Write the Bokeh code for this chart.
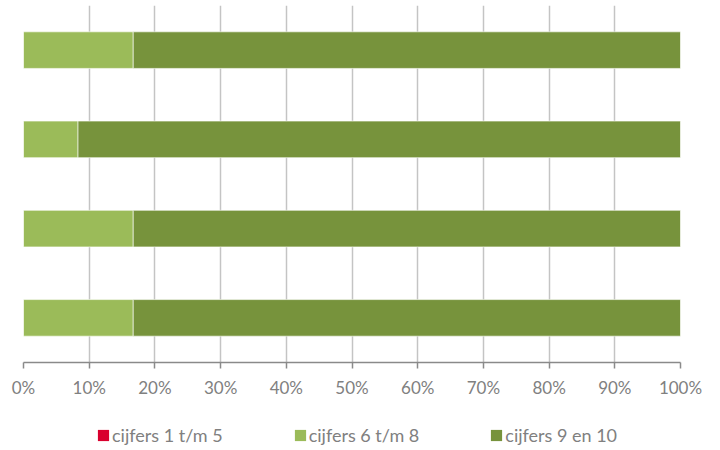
from bokeh.plotting import figure
from bokeh.layouts import column
from bokeh.models import ColumnDataSource, Range1d, NumeralTickFormatter, Legend, LegendItem, FixedTicker
from bokeh.embed import file_html
from bokeh.resources import INLINE

categories = ["1", "2", "3", "4"]
series_names = ["cijfers 1 t/m 5", "cijfers 6 t/m 8", "cijfers 9 en 10"]
low = [0.0, 0.0, 0.0, 0.0]
mid = [16.7, 8.3, 16.7, 16.7]
high = [83.3, 91.7, 83.3, 83.3]
colors = ["#d9002e", "#9bbb59", "#77933c"]
ticks = [0, 10, 20, 30, 40, 50, 60, 70, 80, 90, 100]

data = {
    "y": list(range(len(categories))),
    "s0": [v / 100 for v in low],
    "s1": [v / 100 for v in mid],
    "s2": [v / 100 for v in high],
}
source = ColumnDataSource(data)

p = figure(width=720, height=400, output_backend="svg", toolbar_location=None,
           x_range=Range1d(0, 1), y_range=Range1d(3.5, -0.5),
           min_border_left=23, min_border_right=40, min_border_top=5, min_border_bottom=35)

p.hbar_stack(["s0", "s1", "s2"], y="y", height=0.41, color=colors,
             line_color="white", line_width=0.6, source=source)

p.outline_line_color = None
p.yaxis.visible = False
p.ygrid.visible = False
p.xgrid.grid_line_color = "#c4c4c4"
p.xgrid.grid_line_width = 1.5
p.xaxis.ticker = FixedTicker(ticks=[t / 100 for t in ticks])
p.xaxis.formatter = NumeralTickFormatter(format="0%")
p.xaxis.axis_line_color = "#8a8a8a"
p.xaxis.axis_line_width = 1.5
p.xaxis.major_tick_line_color = "#8a8a8a"
p.xaxis.major_tick_line_width = 1.5
p.xaxis.major_tick_out = 6
p.xaxis.major_tick_in = 0
p.xaxis.minor_tick_line_color = None
p.xaxis.major_label_standoff = 8
p.xaxis.major_label_text_font = "Lato"
p.xaxis.major_label_text_font_size = "17px"
p.xaxis.major_label_text_color = "#808080"

# legend strip below the chart (same stacked series, out of this strip's view)
lf = figure(width=720, height=48, output_backend="svg", toolbar_location=None,
            x_axis_type=None, y_axis_type=None, x_range=Range1d(0, 1), y_range=Range1d(10, 11),
            min_border_left=0, min_border_right=0, min_border_top=0, min_border_bottom=0)
lf.outline_line_color = None
swatches = lf.hbar_stack(["s0", "s1", "s2"], y="y", height=0.41, color=colors,
                         line_color=None, source=source)
items = [LegendItem(label=n, renderers=[r]) for n, r in zip(series_names, swatches)]
legend = Legend(items=items, orientation="horizontal", location=(73, 2),
                glyph_width=14, glyph_height=14, label_standoff=2, spacing=70,
                padding=0, margin=0, border_line_color=None, background_fill_alpha=0,
                label_text_font="Lato", label_text_font_size="18px", label_text_color="#808080")
lf.add_layout(legend, "center")

layout = column(p, lf, spacing=0)
open("out.html", "w").write(file_html(layout, INLINE))
